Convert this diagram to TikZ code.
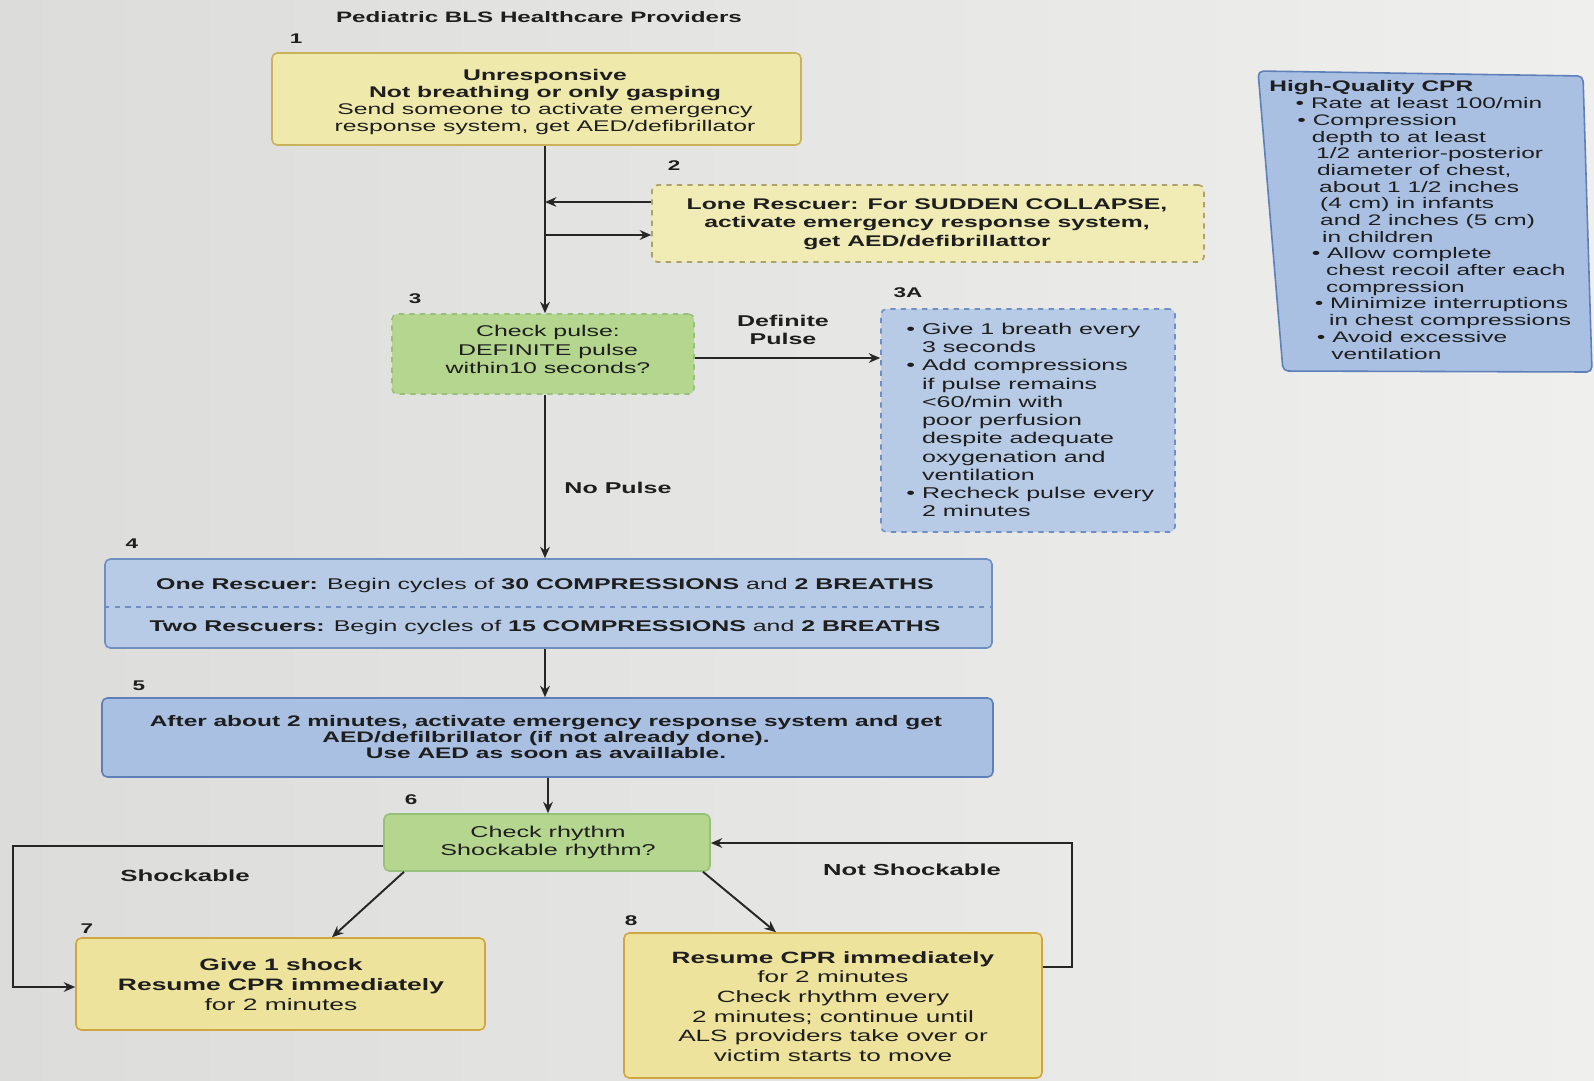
\documentclass[tikz,border=0pt]{standalone}
\usepackage{fontspec}
\setmainfont{Liberation Sans}[FakeStretch=1.6]
\usetikzlibrary{arrows.meta,fit,calc}
\definecolor{bgL}{HTML}{DCDCDA}
\definecolor{bgR}{HTML}{EFEFED}
\definecolor{yfillA}{HTML}{EFE9AC}
\definecolor{ylineA}{HTML}{C9B25A}
\definecolor{yfillB}{HTML}{F1ECB6}
\definecolor{ylineB}{HTML}{ADA36A}
\definecolor{yfillC}{HTML}{EEE39C}
\definecolor{ylineC}{HTML}{D0A640}
\definecolor{gfill}{HTML}{B5D68E}
\definecolor{gline}{HTML}{98C07A}
\definecolor{bfill}{HTML}{B8CBE6}
\definecolor{bline}{HTML}{6F8FC2}
\definecolor{bfillD}{HTML}{A9C0E2}
\definecolor{blineD}{HTML}{5E7FB8}
\definecolor{linec}{HTML}{262626}
\definecolor{txt}{HTML}{1E1E1E}
\newcommand{\fz}[2]{\fontsize{#1}{#2}\selectfont}
\newcommand{\bul}{\textbullet\ }
\newcommand{\nob}{\phantom{\textbullet\ }}
\newcommand{\ind}[1]{\hspace*{#1pt}}
\begin{document}
\begin{tikzpicture}[x=0.02cm,y=-0.02cm,
  every node/.style={inner sep=0pt, text=txt},
  ln/.style={draw=linec, line width=1.1pt},
  arr/.style={ln, -{Stealth[length=6.5pt,width=5.5pt]}},
  base/.style={rounded corners=3pt, line width=0.9pt},
  yboxA/.style={base, fill=yfillA, draw=ylineA},
  yboxB/.style={base, fill=yfillB, draw=ylineB, dashed},
  yboxC/.style={base, fill=yfillC, draw=ylineC},
  gbox/.style={base, fill=gfill, draw=gline},
  bbox/.style={base, fill=bfill, draw=bline},
  bboxD/.style={base, fill=bfillD, draw=blineD},
  txtc/.style={align=center},
  num/.style={font=\fz{8}{9}\bfseries},
  lbl/.style={font=\fz{8.9}{10.4}\bfseries, align=center}
]
\useasboundingbox (0,0) rectangle (1594,1080);
\fill[left color=bgL, right color=bgR] (0,0) rectangle (1594,1080);

% title and step numbers
\node[font=\fz{8.6}{10}\bfseries] (title) at (539,17) {Pediatric BLS Healthcare Providers};
\node[num] (n1) at (296,39) {1};
\node[num] (n2) at (674,166) {2};
\node[num] (n3) at (415,299) {3};
\node[num] (n3a) at (908,293) {3A};
\node[num] (n4) at (132,544) {4};
\node[num] (n5) at (139,686) {5};
\node[num] (n6) at (411,800) {6};
\node[num] (n7) at (87,929) {7};
\node[num] (n8) at (631,921) {8};

\coordinate (sp) at (545,0);

% box 1
\node[yboxA, fit={(272,53) (801,145)}] (b1) {};
\node[txtc, font=\fz{8.8}{9.5}] (t1) at (545,102)
  {\textbf{Unresponsive}\\ \textbf{Not breathing or only gasping}\\ Send someone to activate emergency\\ response system, get AED/defibrillator};

% box 2
\node[yboxB, fit={(652,185) (1204,262)}] (b2) {};
\node[txtc, font=\fz{8.8}{10.4}] (t2) at (927,224)
  {\textbf{Lone Rescuer: For SUDDEN COLLAPSE,}\\ \textbf{activate emergency response system,}\\ \textbf{get AED/defibrillattor}};

% box 3
\node[gbox, dashed, fit={(392,314) (694,394)}] (b3) {};
\node[txtc, font=\fz{8.85}{10.4}] (t3) at (548,349.5)
  {Check pulse:\\ DEFINITE pulse\\ within10 seconds?};

% box 3A
\node[bbox, dashed, fit={(881,309) (1175,532)}] (b3a) {};
\node[anchor=west, align=left, font=\fz{8.9}{10.4}] (t3a) at (906,420)
  {\bul Give 1 breath every\\ \nob 3 seconds\\ \bul Add compressions\\ \nob if pulse remains\\ \nob <60/min with\\ \nob poor perfusion\\ \nob despite adequate\\ \nob oxygenation and\\ \nob ventilation\\ \bul Recheck pulse every\\ \nob 2 minutes};

% CPR box (photographed at a slant)
\draw[base, fill=bfillD, draw=blineD] (1258,71) -- (1583,76) -- (1592,372) -- (1283,371) -- cycle;
\node[anchor=west, align=left, font=\fz{8.7}{9.5}] (tcpr) at (1269,220)
  {\textbf{High-Quality CPR}\\
   \ind{15}\bul Rate at least 100/min\\
   \ind{16}\bul Compression\\
   \ind{15.5}\nob depth to at least\\
   \ind{17.9}\nob 1/2 anterior-posterior\\
   \ind{18.4}\nob diameter of chest,\\
   \ind{19.6}\nob about 1 1/2 inches\\
   \ind{20.2}\nob (4 cm) in infants\\
   \ind{20.2}\nob and 2 inches (5 cm)\\
   \ind{21.3}\nob in children\\
   \ind{24.2}\bul Allow complete\\
   \ind{23.6}\nob chest recoil after each\\
   \ind{23.6}\nob compression\\
   \ind{25.9}\bul Minimize interruptions\\
   \ind{25.3}\nob in chest compressions\\
   \ind{27.1}\bul Avoid excessive\\
   \ind{26.5}\nob ventilation};

% box 4
\node[bbox, fit={(105,559) (992,648)}] (b4) {};
\node[font=\fz{8.85}{10}] (t4a) at (545,585)
  {\textbf{One Rescuer:} Begin cycles of \textbf{30 COMPRESSIONS} and \textbf{2 BREATHS}};
\node[font=\fz{8.85}{10}] (t4b) at (545,627)
  {\textbf{Two Rescuers:} Begin cycles of \textbf{15 COMPRESSIONS} and \textbf{2 BREATHS}};
\draw[draw=bline, dashed, line width=0.7pt] (b4.west |- 0,607) -- (b4.east |- 0,607);

% box 5
\node[bboxD, fit={(102,698) (993,777)}] (b5) {};
\node[txtc, font=\fz{8.7}{9.1}] (t5) at (546,737.5)
  {\textbf{After about 2 minutes, activate emergency response system and get}\\ \textbf{AED/defilbrillator (if not already done).}\\ \textbf{Use AED as soon as availlable.}};

% box 6
\node[gbox, fit={(384,814) (710,871)}] (b6) {};
\node[txtc, font=\fz{8.95}{10.4}] (t6) at (548,842.5)
  {Check rhythm\\ Shockable rhythm?};

% box 7
\node[yboxC, fit={(76,938) (485,1030)}] (b7) {};
\node[txtc, font=\fz{9.4}{11.2}] (t7) at (281,984.5)
  {\textbf{Give 1 shock}\\ \textbf{Resume CPR immediately}\\ for 2 minutes};

% box 8
\node[yboxC, fit={(624,933) (1042,1078)}] (b8) {};
\node[txtc, font=\fz{9.3}{11.2}] (t8) at (833,1006.5)
  {\textbf{Resume CPR immediately}\\ for 2 minutes\\ Check rhythm every\\ 2 minutes; continue until\\ ALS providers take over or\\ victim starts to move};

% labels
\node[lbl] (ldp) at (783,330) {Definite\\ Pulse};
\node[lbl] (lnp) at (618,488) {No Pulse};
\node[lbl, font=\fz{9.2}{10.4}\bfseries] (lsh) at (185,876) {Shockable};
\node[lbl, font=\fz{9.1}{10.4}\bfseries] (lns) at (912,870) {Not Shockable};

% connectors
\draw[arr] (b1.south -| sp) -- (b3.north -| sp);
\draw[arr] (b2.west |- 0,202) -- (sp |- 0,202);
\draw[arr] (sp |- 0,235) -- (b2.west |- 0,235);
\draw[arr] (b3.east |- 0,358) -- (b3a.west |- 0,358);
\draw[arr] (b3.south -| sp) -- (b4.north -| sp);
\draw[arr] (b4.south -| sp) -- (b5.north -| sp);
\draw[arr] (b5.south -| 548,0) -- (b6.north -| 548,0);
\draw[arr] (b6.west |- 0,846) -- (13,846) -- (13,987) -- (b7.west |- 0,987);
\draw[arr] (b6.south -| 404,0) -- (b7.north -| 332,0);
\draw[arr] (b6.south -| 703,0) -- (b8.north -| 776,0);
\draw[arr] (b8.east |- 0,967) -- (1072,967) -- (1072,843) -- (b6.east |- 0,843);
\end{tikzpicture}
\end{document}
